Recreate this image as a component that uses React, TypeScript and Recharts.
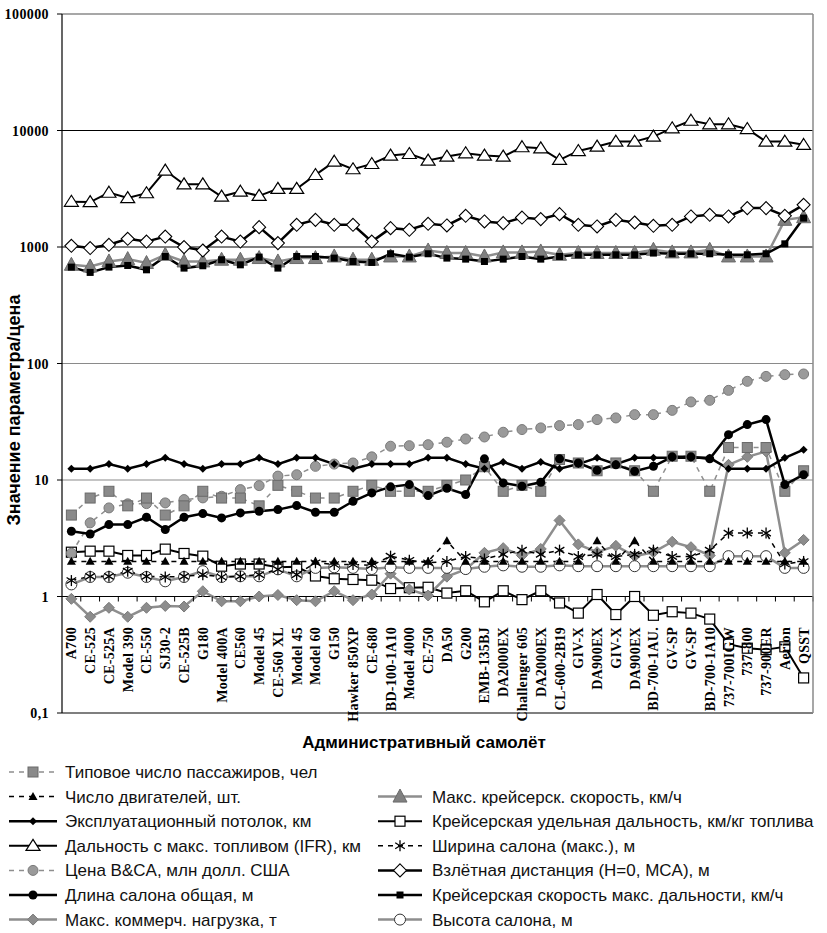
import React from "react";
import { LineChart, Line, XAxis, YAxis, ReferenceLine } from "recharts";

const CATEGORIES = [
  "A700", "CE-525", "CE-525A", "Model 390", "CE-550", "SJ30-2", "CE-525B", "G180",
  "Model 400A", "CE560", "Model 45", "CE-560 XL", "Model 45", "Model 60", "G150",
  "Hawker 850XP", "CE-680", "BD-100-1A10", "Model 4000", "CE-750", "DA50", "G200",
  "EMB-135BJ", "DA2000EX", "Challenger 605", "DA2000EX", "CL-600-2B19", "GIV-X",
  "DA900EX", "GIV-X", "DA900EX", "BD-700-1AU.", "GV-SP", "GV-SP", "BD-700-1A10",
  "737-700IGW", "737-800", "737-900ER", "Aerion", "QSST",
];

const PASSENGERS = [5, 7, 8, 6, 7, 5, 6, 8, 7, 7, 6, 9, 8, 7, 7, 8, 9, 8, 8, 8, 9, 10, 13, 8, 9, 8, 15, 14, 12, 14, 12, 8, 16, 16, 8, 19, 19, 19, 8, 12];
const ENGINES = [2, 2, 2, 2, 2, 2, 2, 2, 2, 2, 2, 2, 2, 2, 2, 2, 2, 2, 2, 2, 3, 2, 2, 2, 2, 2, 2, 2, 3, 2, 3, 2, 2, 2, 2, 2, 2, 2, 2, 2];
const CEILING = [12.5, 12.5, 13.7, 12.5, 13.7, 15.5, 13.7, 12.5, 13.7, 13.7, 15.5, 13.7, 15.5, 15.5, 13.7, 12.5, 13.7, 13.7, 13.7, 15.5, 15.5, 13.7, 12.5, 14.3, 12.5, 14.3, 12.5, 13.7, 15.5, 13.7, 15.5, 15.5, 15.5, 15.5, 15.5, 12.5, 12.5, 12.5, 15.5, 18.2];
const RANGE_IFR = [2450, 2430, 2930, 2630, 2900, 4530, 3460, 3460, 2710, 2990, 2750, 3160, 3160, 4160, 5410, 4660, 5170, 6100, 6300, 5520, 5980, 6390, 6100, 5980, 7200, 7050, 5600, 6680, 7280, 8030, 8030, 8870, 10470, 12160, 11330, 11330, 10320, 8030, 8030, 7530];
const PRICE = [2.35, 4.29, 5.76, 6.24, 6.27, 6.36, 6.79, 7.02, 7.25, 8.27, 8.95, 10.8, 11.1, 13.1, 13.7, 14.0, 15.8, 19.5, 19.7, 20.1, 21.1, 22.5, 23.4, 25.7, 27.1, 28.0, 29.3, 29.9, 33.0, 34.1, 36.4, 36.4, 39.6, 46.8, 48.3, 58.8, 70.3, 77.5, 80.2, 81.3];
const CABIN_LENGTH = [3.63, 3.44, 4.14, 4.14, 4.79, 3.76, 4.79, 5.15, 4.73, 5.22, 5.39, 5.57, 6.03, 5.29, 5.29, 6.57, 7.75, 8.73, 9.13, 7.35, 8.5, 7.5, 15.2, 9.44, 8.83, 9.56, 15.2, 14.0, 12.1, 13.5, 11.9, 13.1, 15.8, 15.8, 15.2, 24.5, 29.9, 33.0, 9.13, 11.1];
const PAYLOAD = [0.955, 0.67, 0.8, 0.67, 0.8, 0.83, 0.82, 1.11, 0.91, 0.91, 1.0, 1.03, 0.93, 0.91, 1.11, 0.93, 1.04, 1.57, 1.15, 1.02, 1.48, 1.71, 2.37, 2.6, 2.25, 2.56, 4.5, 2.8, 2.4, 2.72, 2.22, 2.4, 2.95, 2.65, 2.25, 13.5, 15.8, 17.6, 2.37, 3.06];
const MAX_CRUISE_SPEED = [703, 680, 751, 787, 728, 857, 751, 751, 777, 777, 803, 751, 803, 803, 829, 777, 777, 829, 829, 933, 887, 887, 829, 898, 898, 915, 857, 887, 887, 887, 887, 946, 898, 898, 946, 829, 829, 829, 1710, 1800];
const SPECIFIC_RANGE = [2.4, 2.45, 2.45, 2.25, 2.25, 2.55, 2.34, 2.22, 1.82, 1.9, 1.9, 1.78, 1.8, 1.5, 1.42, 1.4, 1.38, 1.17, 1.19, 1.2, 1.07, 1.12, 0.9, 1.12, 0.94, 1.12, 0.88, 0.72, 1.04, 0.7, 1.0, 0.69, 0.74, 0.72, 0.64, 0.39, 0.36, 0.35, 0.37, 0.2];
const CABIN_WIDTH = [1.37, 1.49, 1.49, 1.65, 1.49, 1.47, 1.49, 1.54, 1.47, 1.49, 1.54, 1.71, 1.54, 1.95, 1.88, 1.88, 1.85, 2.22, 2.05, 1.95, 2.0, 2.2, 2.1, 2.3, 2.5, 2.3, 2.5, 2.2, 2.3, 2.2, 2.3, 2.5, 2.2, 2.2, 2.5, 3.5, 3.5, 3.5, 1.9, 2.0];
const TAKEOFF = [1024, 979, 1045, 1175, 1113, 1230, 998, 933, 1230, 1113, 1481, 1080, 1550, 1710, 1550, 1550, 1113, 1452, 1405, 1582, 1530, 1852, 1656, 1603, 1791, 1735, 1915, 1550, 1500, 1710, 1623, 1520, 1550, 1828, 1888, 1828, 2157, 2157, 1852, 2300];
const LRC_SPEED = [672, 605, 672, 694, 637, 829, 659, 690, 777, 703, 819, 659, 829, 829, 803, 751, 737, 875, 819, 875, 803, 787, 751, 787, 829, 787, 829, 857, 857, 857, 857, 887, 875, 875, 875, 857, 857, 875, 1065, 1770];
const CABIN_HEIGHT = [1.27, 1.47, 1.47, 1.6, 1.47, 1.35, 1.47, 1.65, 1.47, 1.49, 1.49, 1.71, 1.49, 1.76, 1.78, 1.76, 1.72, 1.78, 1.76, 1.76, 1.76, 1.72, 1.8, 1.85, 1.8, 1.8, 1.85, 1.82, 1.82, 1.82, 1.82, 1.82, 1.82, 1.82, 1.82, 2.22, 2.22, 2.22, 1.76, 1.76];

const Y_TICKS = [0.1, 1, 10, 100, 1000, 10000, 100000];
const Y_TICK_LABELS = ["0,1", "1", "10", "100", "1000", "10000", "100000"];

const CHART_W = 827;
const CHART_H = 760;
const PLOT_L = 62;
const PLOT_R = 813;
const PLOT_T = 14;
const PLOT_B = 713;
const BAND = (PLOT_R - PLOT_L) / CATEGORIES.length;
const DECADE = (PLOT_B - PLOT_T) / (Y_TICKS.length - 1);
const ONE_Y = PLOT_B - DECADE;
const LABEL_TOP = 627;

const GRAY = "#8e8e8e";
const SERIF = "'Liberation Serif', 'Times New Roman', serif";
const SANS = "'Liberation Sans', Arial, sans-serif";

type Kind =
  | "graySquare" | "blackTri" | "blackDiamond" | "whiteTri" | "grayCircle" | "blackCircle"
  | "grayDiamond" | "grayTri" | "whiteSquare" | "asterisk" | "whiteDiamond" | "blackSquare" | "whiteCircle";

function Marker({ kind, cx, cy }: { kind: Kind; cx: number; cy: number }) {
  if (cx == null || cy == null || isNaN(cx) || isNaN(cy)) return null;
  const tri = (w: number, h: number) =>
    `${cx},${cy - h * 0.58} ${cx + w / 2},${cy + h * 0.42} ${cx - w / 2},${cy + h * 0.42}`;
  const dia = (r: number) => `${cx},${cy - r} ${cx + r},${cy} ${cx},${cy + r} ${cx - r},${cy}`;
  switch (kind) {
    case "graySquare":
      return <rect x={cx - 5} y={cy - 5} width={10} height={10} fill="#8a8a8a" stroke="#6a6a6a" strokeWidth={1} />;
    case "blackTri":
      return <polygon points={tri(9, 8)} fill="#000" />;
    case "blackDiamond":
      return <polygon points={dia(4)} fill="#000" />;
    case "whiteTri":
      return <polygon points={tri(14, 11)} fill="#fff" stroke="#000" strokeWidth={1.2} />;
    case "grayCircle":
      return <circle cx={cx} cy={cy} r={5} fill="#9a9a9a" stroke="#7a7a7a" strokeWidth={1} />;
    case "blackCircle":
      return <circle cx={cx} cy={cy} r={4.5} fill="#000" />;
    case "grayDiamond":
      return <polygon points={dia(5.5)} fill="#8c8c8c" stroke="#7a7a7a" strokeWidth={1} />;
    case "grayTri":
      return <polygon points={tri(14, 13)} fill="#808080" stroke="#6a6a6a" strokeWidth={1} />;
    case "whiteSquare":
      return <rect x={cx - 5} y={cy - 5} width={10} height={10} fill="#fff" stroke="#000" strokeWidth={1.2} />;
    case "asterisk":
      return (
        <g stroke="#000" strokeWidth={1.3}>
          <line x1={cx} y1={cy - 5.5} x2={cx} y2={cy + 5.5} />
          <line x1={cx - 4.8} y1={cy - 3} x2={cx + 4.8} y2={cy + 3} />
          <line x1={cx - 4.8} y1={cy + 3} x2={cx + 4.8} y2={cy - 3} />
        </g>
      );
    case "whiteDiamond":
      return <polygon points={dia(6.5)} fill="#fff" stroke="#000" strokeWidth={1.1} />;
    case "blackSquare":
      return <rect x={cx - 3.5} y={cy - 3.5} width={7} height={7} fill="#000" />;
    case "whiteCircle":
      return <circle cx={cx} cy={cy} r={5.5} fill="#fff" stroke="#333" strokeWidth={1} />;
  }
  return null;
}

type SeriesDef = { key: string; label: string; stroke: string; width: number; dash?: string; marker: Kind };

const S: Record<string, SeriesDef> = {
  pax: { key: "pax", label: "Типовое число пассажиров, чел", stroke: GRAY, width: 1.5, dash: "5 5", marker: "graySquare" },
  eng: { key: "eng", label: "Число двигателей, шт.", stroke: "#000", width: 1.5, dash: "5 5", marker: "blackTri" },
  ceil: { key: "ceil", label: "Эксплуатационный потолок, км", stroke: "#000", width: 2.5, marker: "blackDiamond" },
  range: { key: "rangeIfr", label: "Дальность с макс. топливом (IFR), км", stroke: "#000", width: 2, marker: "whiteTri" },
  price: { key: "price", label: "Цена B&CA, млн  долл. США", stroke: GRAY, width: 1.5, dash: "5 5", marker: "grayCircle" },
  len: { key: "cabinLen", label: "Длина салона общая, м", stroke: "#000", width: 2.5, marker: "blackCircle" },
  payload: { key: "payload", label: "Макс. коммерч. нагрузка, т", stroke: GRAY, width: 2.5, marker: "grayDiamond" },
  cruise: { key: "cruise", label: "Макс. крейсерск. скорость, км/ч", stroke: GRAY, width: 2.5, marker: "grayTri" },
  spec: { key: "spec", label: "Крейсерская удельная дальность, км/кг топлива", stroke: "#000", width: 2, marker: "whiteSquare" },
  width: { key: "cabinW", label: "Ширина салона (макс.), м", stroke: "#000", width: 1.5, dash: "5 5", marker: "asterisk" },
  takeoff: { key: "takeoff", label: "Взлётная дистанция (H=0, MCA), м", stroke: "#000", width: 2.5, marker: "whiteDiamond" },
  lrc: { key: "lrc", label: "Крейсерская скорость макс. дальности, км/ч", stroke: "#000", width: 2.5, marker: "blackSquare" },
  height: { key: "cabinH", label: "Высота салона, м", stroke: GRAY, width: 2.5, marker: "whiteCircle" },
};

const DRAW_ORDER = ["spec", "payload", "height", "cruise", "price", "pax", "width", "eng", "range", "takeoff", "ceil", "len", "lrc"];
const LEGEND_LEFT = ["pax", "eng", "ceil", "range", "price", "len", "payload"];
const LEGEND_RIGHT = ["cruise", "spec", "width", "takeoff", "lrc", "height"];

const GRID_COLORS: Record<number, string> = { 1: "#000", 10: "#8a8a8a", 100: "#8a8a8a", 1000: "#000", 10000: "#000", 100000: "#8a8a8a" };

function CatTick(props: any) {
  const { x, payload } = props;
  return (
    <g>
      <line x1={x + BAND / 2} x2={x + BAND / 2} y1={ONE_Y} y2={ONE_Y + 5} stroke="#000" strokeWidth={1} />
      <text
        transform={`translate(${x + 5},${LABEL_TOP}) rotate(-90)`}
        textAnchor="end"
        fontFamily={SERIF}
        fontWeight="bold"
        fontSize={14}
        letterSpacing={0.3}
        fill="#000"
      >
        {payload.value}
      </text>
    </g>
  );
}

function ValTick(props: any) {
  const { x, y, payload } = props;
  const idx = Y_TICKS.indexOf(payload.value);
  return (
    <text x={x - 6} y={y} dy={5} textAnchor="end" fontFamily={SERIF} fontWeight="bold" fontSize={14} letterSpacing={0.4} fill="#000">
      {idx >= 0 ? Y_TICK_LABELS[idx] : payload.value}
    </text>
  );
}

function renderDot(kind: Kind, key: string) {
  return (p: any) => (
    <g key={`${key}-${p.index}`}>
      <Marker kind={kind} cx={p.cx} cy={p.cy} />
    </g>
  );
}

export default function App() {
  const data = CATEGORIES.map((name, i) => ({
    name,
    pax: PASSENGERS[i],
    eng: ENGINES[i],
    ceil: CEILING[i],
    rangeIfr: RANGE_IFR[i],
    price: PRICE[i],
    cabinLen: CABIN_LENGTH[i],
    payload: PAYLOAD[i],
    cruise: MAX_CRUISE_SPEED[i],
    spec: SPECIFIC_RANGE[i],
    cabinW: CABIN_WIDTH[i],
    takeoff: TAKEOFF[i],
    lrc: LRC_SPEED[i],
    cabinH: CABIN_HEIGHT[i],
  }));

  const legendRow = (key: string, lineX1: number, lineX2: number, textX: number, y: number) => {
    const s = S[key];
    const mx = (lineX1 + lineX2) / 2;
    return (
      <g key={`lg-${key}`}>
        <line x1={lineX1} x2={lineX2} y1={y} y2={y} stroke={s.stroke} strokeWidth={s.width} strokeDasharray={s.dash} />
        <Marker kind={s.marker} cx={mx} cy={y} />
        <text x={textX} y={y} dy={6} fontFamily={SANS} fontSize={17} fill="#111">
          {s.label}
        </text>
      </g>
    );
  };

  return (
    <div style={{ position: "absolute", left: 0, top: 0, width: 827, height: 933, background: "#fff" }}>
      <div style={{ position: "absolute", left: 0, top: 0 }}>
        <LineChart width={CHART_W} height={CHART_H} data={data} margin={{ top: PLOT_T, right: CHART_W - PLOT_R, bottom: 0, left: 0 }}>
          <XAxis
            dataKey="name"
            interval={0}
            padding={{ left: BAND / 2, right: BAND / 2 }}
            height={CHART_H - PLOT_B}
            axisLine={{ stroke: "#000", strokeWidth: 1.2 }}
            tickLine={false}
            tick={<CatTick />}
          />
          <YAxis
            scale="log"
            domain={[0.1, 100000]}
            ticks={Y_TICKS}
            allowDataOverflow
            width={PLOT_L}
            axisLine={{ stroke: "#000", strokeWidth: 1.2 }}
            tickLine={{ stroke: "#000" }}
            tickSize={5}
            tick={<ValTick />}
          />
          {Y_TICKS.filter((v) => v > 0.1).map((v) => (
            <ReferenceLine key={`g${v}`} y={v} stroke={GRID_COLORS[v]} strokeWidth={v === 100000 ? 1.5 : 1.2} />
          ))}
          {DRAW_ORDER.map((k) => {
            const s = S[k];
            return (
              <Line
                key={k}
                type="linear"
                dataKey={s.key}
                stroke={s.stroke}
                strokeWidth={s.width}
                strokeDasharray={s.dash}
                dot={renderDot(s.marker, s.key)}
                activeDot={false}
                isAnimationActive={false}
              />
            );
          })}
        </LineChart>
      </div>
      <svg width={827} height={933} style={{ position: "absolute", left: 0, top: 0, pointerEvents: "none" }}>
        <line x1={PLOT_R} x2={PLOT_R} y1={PLOT_T} y2={PLOT_B} stroke="#8a8a8a" strokeWidth={1.5} />
        <text
          transform="translate(14,410) rotate(-90)"
          textAnchor="middle"
          dominantBaseline="central"
          fontFamily={SANS}
          fontWeight="bold"
          fontSize={18}
          fill="#000"
        >
          Значение параметра/цена
        </text>
        <text x={424} y={748} textAnchor="middle" fontFamily={SANS} fontWeight="bold" fontSize={17} fill="#000">
          Административный самолёт
        </text>
        {LEGEND_LEFT.map((k, i) => legendRow(k, 9, 57, 65, 772 + i * 24.6))}
        {LEGEND_RIGHT.map((k, i) => legendRow(k, 378, 422, 432, 772 + (i + 1) * 24.6))}
      </svg>
    </div>
  );
}
